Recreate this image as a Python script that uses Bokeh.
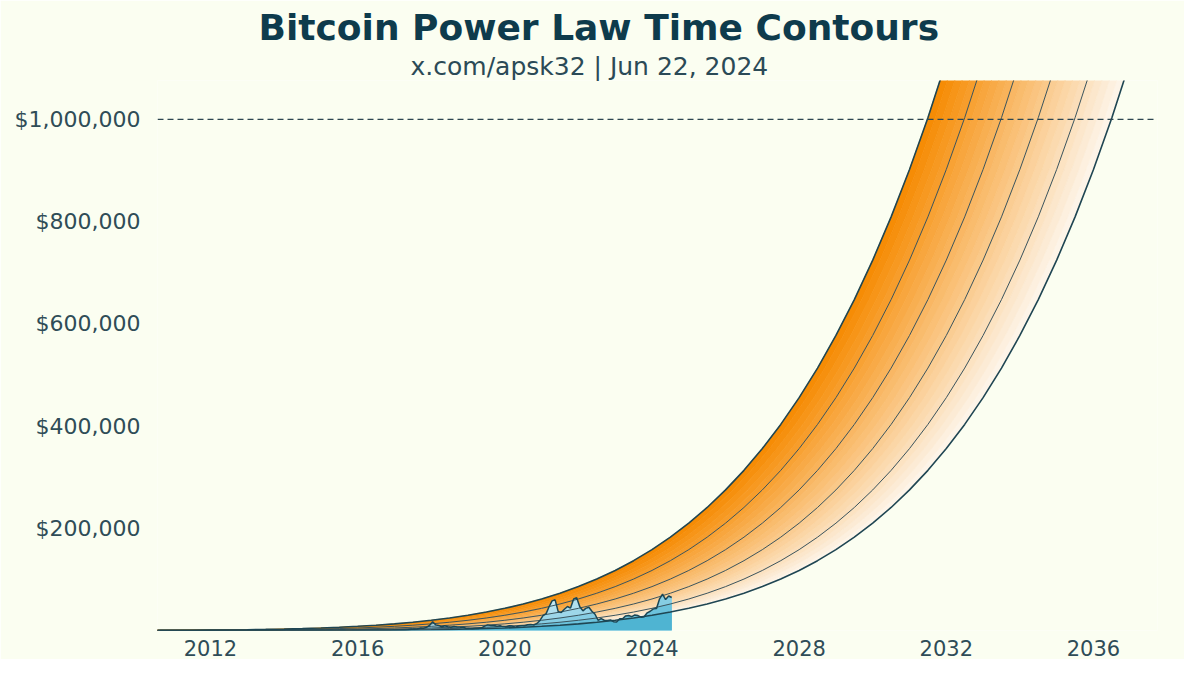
import numpy as np
import pandas as pd
from bokeh.plotting import figure
from bokeh.models import Span, Title, FixedTicker, Range1d
from bokeh.embed import file_html
from bokeh.resources import INLINE

# ---------------- data ----------------
# Power-law support curve (bottom contour), every half year from 2010.5
base_usd = [0.047, 0.25, 0.92, 2.64, 6.45, 13.98, 27.7, 51.0, 88.7, 146.9,
            233.7, 359, 536, 779, 1107, 1542, 2110, 2841, 3771, 4938,
            6391, 8180, 10364, 13010, 16194, 19994, 24505, 29826, 36073, 43367,
            51850, 61649, 72928, 85862, 100640, 117470, 136580, 158180, 182560, 209980,
            240680, 275020, 313300, 355880, 403170, 455530, 513400, 577240, 647450, 724630,
            809230, 902040, 1003300, 1114000, 1234500]
base_start_year = 2010.5
# each contour is the support curve moved this many years earlier
contour_shift_years = [0, 1, 2, 3, 4, 5]

# Bitcoin monthly price (USD), Jul 2010 .. Jun 2024
price_start = "2010-07-15"
price_usd = [
    0.07, 0.07, 0.06, 0.1, 0.25, 0.25,
    0.4, 0.9, 0.85, 1.5, 7, 18, 14, 10, 5.5, 3.5, 2.8, 4,
    6, 5, 4.9, 5, 5.1, 6.5, 8.5, 10.5, 11.5, 11, 11, 13.4,
    17, 30, 70, 120, 120, 100, 90, 115, 130, 190, 700, 800,
    850, 600, 500, 450, 600, 620, 590, 500, 400, 340, 380, 320,
    220, 250, 250, 230, 230, 250, 280, 230, 235, 310, 380, 430,
    380, 430, 415, 450, 530, 670, 650, 575, 610, 700, 740, 960,
    900, 1150, 1050, 1350, 2300, 2500, 2800, 4700, 4300, 6100, 9800, 17000,
    11000, 10000, 7000, 9200, 7500, 6400, 7700, 7000, 6600, 6300, 4000, 3700,
    3450, 3800, 4100, 5300, 8500, 11000, 10000, 9600, 8300, 9200, 7600, 7200,
    9300, 8600, 6400, 8600, 9400, 9100, 11300, 11600, 10800, 13800, 19700, 29000,
    33000, 46000, 58000, 60000, 37000, 35000, 41500, 47000, 43800, 61500, 64000, 46300,
    38500, 43200, 45500, 37700, 31800, 20000, 23300, 20000, 19400, 20500, 17200, 16500,
    23100, 23100, 28500, 29300, 27200, 30500, 29200, 26000, 27000, 34600, 37700, 42300,
    43000, 61200, 71000, 60600, 67500, 64500,
]

x_ticks = [2012, 2016, 2020, 2024, 2028, 2032, 2036]
x_tick_labels = ["2012", "2016", "2020", "2024", "2028", "2032", "2036"]
y_ticks = [200000, 400000, 600000, 800000, 1000000]
y_tick_labels = ["$200,000", "$400,000", "$600,000", "$800,000", "$1,000,000"]
million_line = 1000000

title_text = "Bitcoin Power Law Time Contours"
subtitle_text = "x.com/apsk32 | Jun 22, 2024"

# ---------------- derived ----------------
base_usd = np.array(base_usd, dtype=float)
base_year = base_start_year + 0.5 * np.arange(len(base_usd))

dates = pd.date_range(price_start, periods=len(price_usd), freq="MS") + pd.Timedelta(days=14)
price_x = np.array(dates.year + (dates.dayofyear - 1) / 365.25, dtype=float)
price_y = np.array(price_usd, dtype=float)

BG = "#fbfef1"
FONT = "DejaVu Sans"

p = figure(width=1184, height=659, output_backend="svg", toolbar_location=None,
           x_range=Range1d(2010.56, 2037.74), y_range=Range1d(0, 1076000),
           min_border_left=157, min_border_right=27, min_border_bottom=29, min_border_top=80,
           background_fill_color=BG, border_fill_color=BG, outline_line_color=None)

# gradient bands between top and bottom contour
dark = np.array([246, 138, 0])
light = np.array([253, 246, 237])
step = 0.2
n_sub = int(round((contour_shift_years[-1] - contour_shift_years[0]) / step))
xs, ys, cols = [], [], []
for j in range(n_sub):
    s0 = contour_shift_years[0] + j * step
    s1 = s0 + step
    f = (s0 + step / 2) / contour_shift_years[-1]
    c = light + (dark - light) * f
    col = "#%02x%02x%02x" % tuple(int(round(v)) for v in c)
    xs.append(np.concatenate([base_year - s0, (base_year - s1)[::-1]]))
    ys.append(np.concatenate([base_usd, base_usd[::-1]]))
    cols.append(col)
p.patches(xs, ys, fill_color=cols, line_color=cols, line_width=0.6)

# bitcoin price area, shaded by contour band
blues = ["#4fb4d2", "#6cc2dc", "#86cde3", "#9dd7e9", "#b1e0ee", "#c3e8f2"]
p.varea(x=price_x, y1=0, y2=price_y, fill_color=blues[-1])
for k in reversed(contour_shift_years[:-1]):
    cap = np.interp(price_x + k, base_year, base_usd)
    p.varea(x=price_x, y1=0, y2=np.minimum(price_y, cap), fill_color=blues[k])

# contour lines
for k in contour_shift_years:
    outer = k in (contour_shift_years[0], contour_shift_years[-1])
    p.line(base_year - k, base_usd,
           line_color="#1f4653" if outer else "#3b545d",
           line_width=1.6 if outer else 1.0)

p.line(price_x, price_y, line_color="#1b4655", line_width=1.5)

p.add_layout(Span(location=million_line, dimension="width", line_color="#2d4650",
                  line_width=1.2, line_dash="6 4"))

# axes
p.grid.visible = False
for ax in (p.xaxis[0], p.yaxis[0]):
    ax.axis_line_color = None
    ax.major_tick_line_color = None
    ax.minor_tick_line_color = None
    ax.major_label_text_font = FONT
    ax.major_label_text_color = "#2f4c57"
p.xaxis.ticker = FixedTicker(ticks=x_ticks)
p.xaxis.major_label_overrides = {t: l for t, l in zip(x_ticks, x_tick_labels)}
p.xaxis.major_label_text_font_size = "21px"
p.xaxis.major_label_standoff = 3
p.yaxis.ticker = FixedTicker(ticks=y_ticks)
p.yaxis.major_label_overrides = {t: l for t, l in zip(y_ticks, y_tick_labels)}
p.yaxis.major_label_text_font_size = "22px"
p.yaxis.major_label_standoff = 11

# titles
p.add_layout(Title(text=subtitle_text, align="left", offset=253, text_font=FONT,
                   text_font_size="25px", text_font_style="normal",
                   text_color="#2b4a56", standoff=0), "above")
p.add_layout(Title(text=title_text, align="left", offset=101, text_font=FONT,
                   text_font_size="36px", text_font_style="bold",
                   text_color="#0e3b4c", standoff=4), "above")

open("out.html", "w").write(file_html(p, INLINE))
